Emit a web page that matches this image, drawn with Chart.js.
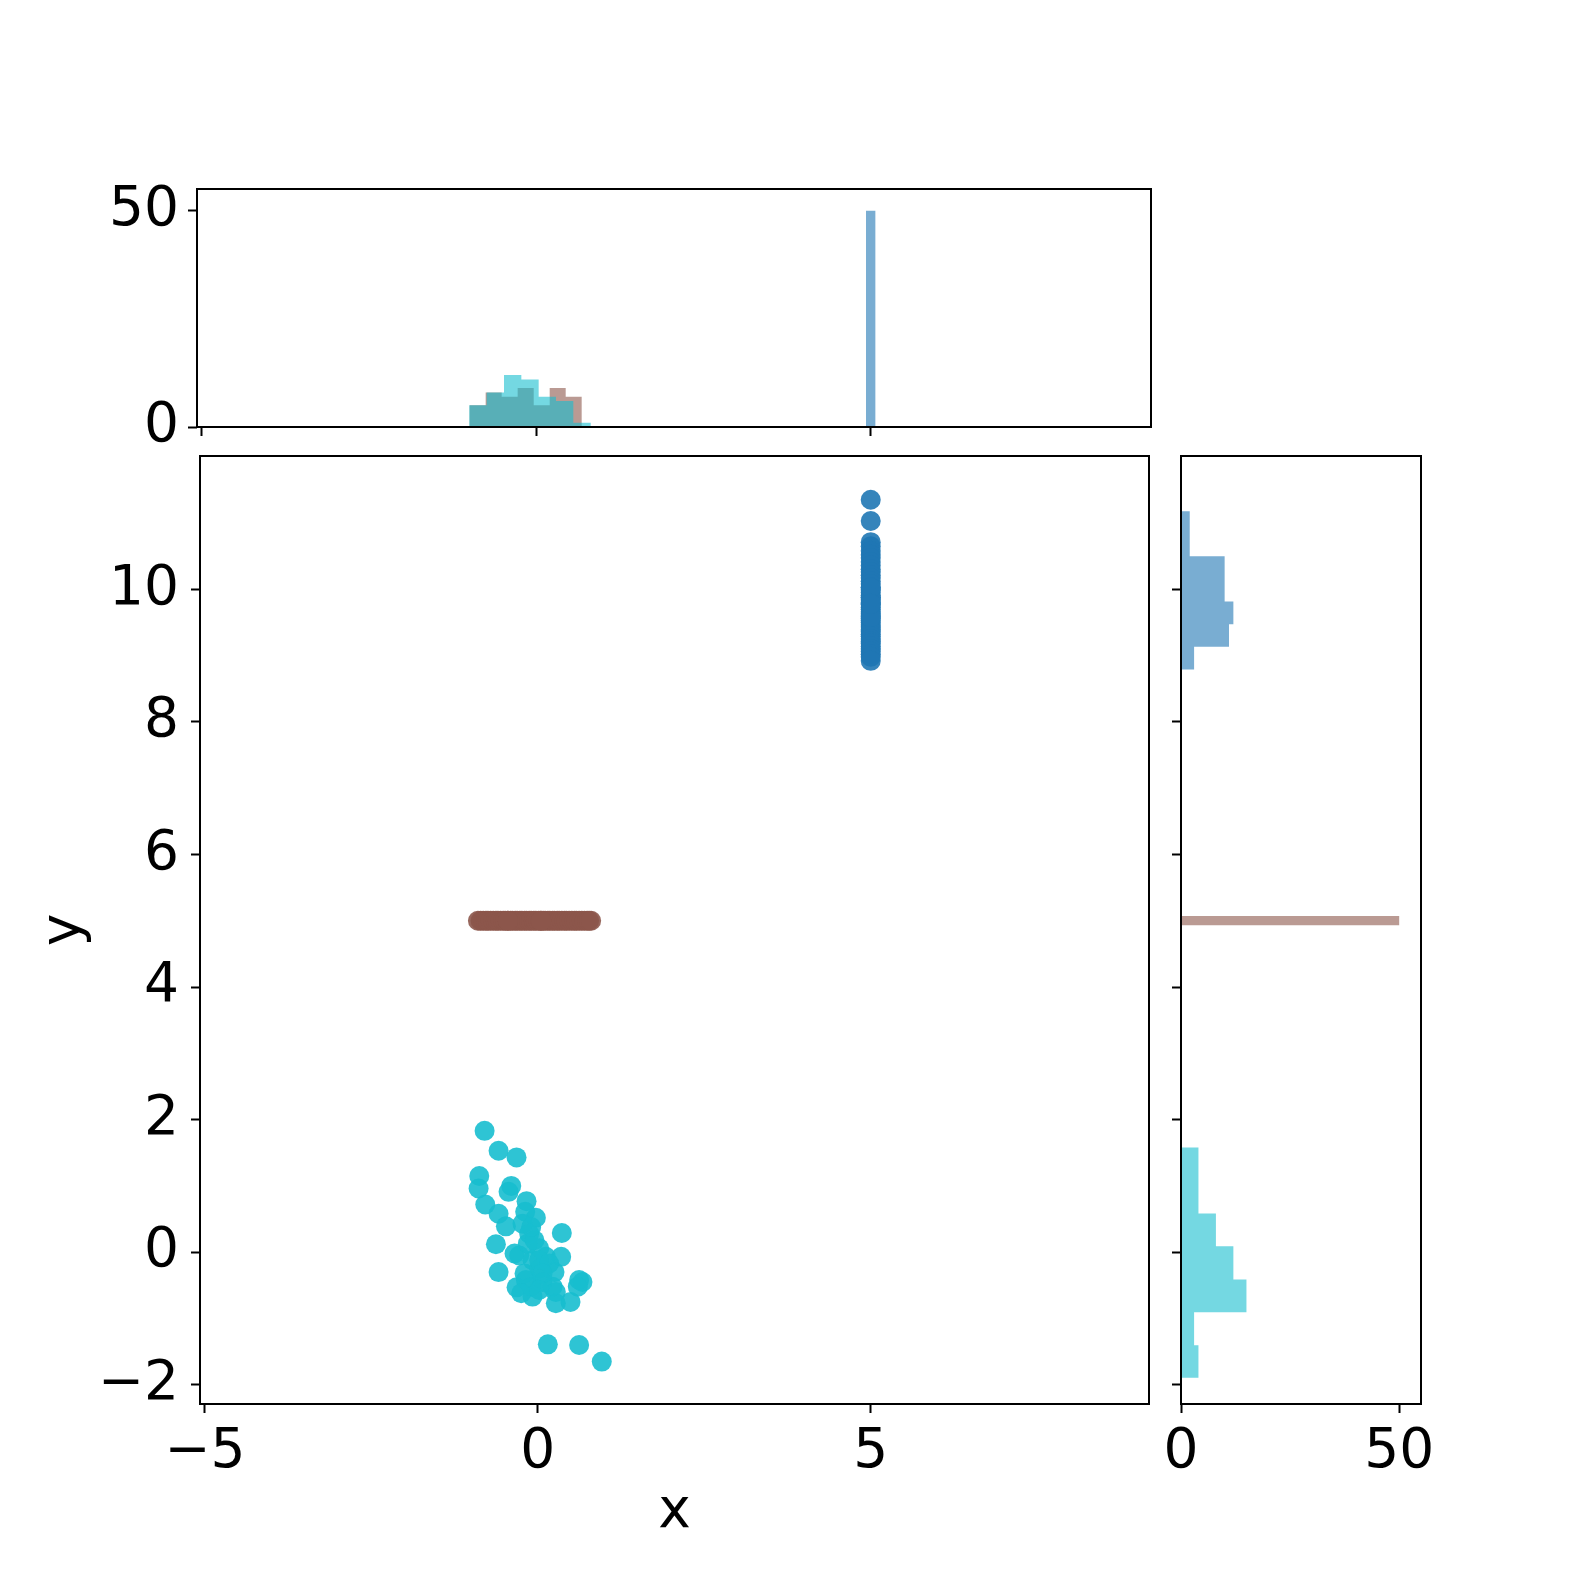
<!DOCTYPE html>
<html>
<head>
<meta charset="utf-8">
<script src="https://cdn.jsdelivr.net/npm/chart.js@4/dist/chart.umd.min.js"></script>
<style>
  html, body { margin: 0; padding: 0; background: #fff; }
  #wrap { position: relative; width: 1578px; height: 1578px; }
  canvas { position: absolute; left: 0; top: 0; }
</style>
</head>
<body>
<div id="wrap">
  <canvas id="main" width="1578" height="1578"></canvas>
  <canvas id="histx" width="1578" height="1578"></canvas>
  <canvas id="histy" width="1578" height="1578"></canvas>
</div>
<script>
// scatter groups
var blueX = 5;
var blueY = [11.35, 11.03, 10.71, 10.65, 10.58, 10.52, 10.47, 10.41, 10.36, 10.30,
  10.26, 10.21, 10.17, 10.12, 10.08, 10.03, 9.99, 9.95, 9.91, 9.87,
  9.84, 9.80, 9.77, 9.73, 9.70, 9.66, 9.63, 9.60, 9.56, 9.53,
  9.50, 9.46, 9.43, 9.39, 9.36, 9.32, 9.29, 9.25, 9.21, 9.18,
  9.14, 9.10, 9.06, 9.02, 8.98, 8.92, 9.88, 10.02, 9.58, 9.78];

var brownY = 5;
var brownX = [-0.90, -0.86, -0.82, -0.78, -0.75, -0.71, -0.67, -0.63, -0.60, -0.56,
  -0.52, -0.49, -0.45, -0.41, -0.38, -0.34, -0.31, -0.27, -0.24, -0.20,
  -0.17, -0.13, -0.10, -0.06, -0.03, 0.01, 0.04, 0.08, 0.11, 0.15,
  0.18, 0.22, 0.25, 0.29, 0.32, 0.36, 0.40, 0.43, 0.47, 0.51,
  0.55, 0.58, 0.62, 0.66, 0.70, 0.74, 0.77, 0.80, -0.45, 0.05];

var cyanX = [-0.80, -0.59, -0.32, -0.88, -0.89, -0.40, -0.44, -0.79, -0.17, -0.59,
  -0.19, -0.03, -0.48, -0.23, -0.13, 0.36, -0.63, -0.35, -0.28, 0.02,
  0.12, 0.35, -0.08, -0.59, -0.20, 0.02, 0.25, 0.62, 0.67, -0.32,
  -0.10, 0.07, 0.22, 0.60, -0.08, 0.27, 0.49, 0.15, 0.62, 0.96,
  0.02, 0.17, -0.18, 0.07, -0.15, -0.05, -0.25, 0.27, 0.02, -0.10];
var cyanY = [1.83, 1.53, 1.43, 1.15, 0.96, 1.00, 0.91, 0.72, 0.77, 0.58,
  0.61, 0.52, 0.39, 0.43, 0.28, 0.29, 0.12, -0.02, -0.05, 0.06,
  -0.07, -0.07, -0.12, -0.30, -0.32, -0.25, -0.30, -0.42, -0.45, -0.53,
  -0.52, -0.45, -0.52, -0.52, -0.67, -0.77, -0.75, -1.39, -1.40, -1.65,
  -0.12, -0.17, -0.42, -0.32, 0.13, 0.18, -0.62, -0.60, -0.57, 0.38];

// marginal histograms (7 bins each)
var cyanXEdges = [-1.000, -0.740, -0.481, -0.222, 0.037, 0.296, 0.555, 0.815];
var cyanXCounts = [5, 8, 12, 11, 7, 6, 1];
var brownXEdges = [-0.994, -0.755, -0.516, -0.277, -0.037, 0.202, 0.441, 0.680];
var brownXCounts = [5, 8, 7, 9, 5, 9, 7];
var blueXEdges = [4.93, 5.07];
var blueXCounts = [50];

var blueYEdges = [8.790, 9.132, 9.472, 9.815, 10.157, 10.497, 10.835, 11.176];
var blueYCounts = [3, 11, 12, 10, 10, 2, 2];
var brownYEdges = [4.93, 5.07];
var brownYCounts = [50];
var cyanYEdges = [-1.895, -1.402, -0.905, -0.412, 0.090, 0.583, 1.081, 1.578];
var cyanYCounts = [4, 3, 15, 12, 8, 4, 4];

var mainXTicks = [-5, 0, 5];
var mainYTicks = [-2, 0, 2, 4, 6, 8, 10];
var countTicks = [0, 50];

var BLUE = '31,119,180', BROWN = '140,86,75', CYAN = '23,190,207';

Chart.defaults.font.family = '"DejaVu Sans", sans-serif';
Chart.defaults.font.size = 55;
Chart.defaults.color = '#000';
Chart.defaults.animation = false;
Chart.defaults.events = [];
Chart.defaults.plugins.legend.display = false;
Chart.defaults.plugins.tooltip.enabled = false;

var spines = {
  id: 'spines',
  afterDraw: function(chart) {
    var c = chart.ctx, a = chart.chartArea;
    c.save();
    c.strokeStyle = '#000';
    c.lineWidth = 2;
    c.strokeRect(a.left, a.top, a.right - a.left, a.bottom - a.top);
    c.restore();
  }
};

function minus(v) { return String(v).replace('-', '\u2212'); }

function axis(min, max, ticks, size, labels, pad, extra) {
  var o = {
    type: 'linear', min: min, max: max,
    afterBuildTicks: function(s) { s.ticks = ticks.map(function(v) { return {value: v}; }); },
    afterFit: function(s) { if (s.isHorizontal()) s.height = size; else s.width = size; },
    grid: { display: true, drawOnChartArea: false, drawTicks: true, tickLength: 9, tickWidth: 2, tickColor: '#000', color: '#000' },
    border: { display: false },
    ticks: { padding: pad, callback: function(v) { return labels ? minus(v) : ''; } }
  };
  return Object.assign(o, extra || {});
}

function pts(xs, ys) {
  return xs.map(function(x, i) { return { x: x, y: ys[i] }; });
}
function fixedX(x, ys) { return ys.map(function(y) { return {x: x, y: y}; }); }
function fixedY(xs, y) { return xs.map(function(x) { return {x: x, y: y}; }); }

// histogram outline polygons built from edges/counts
function barsUp(edges, counts) {
  var p = [{x: edges[0], y: 0}];
  counts.forEach(function(c, i) { p.push({x: edges[i], y: c}, {x: edges[i + 1], y: c}); });
  p.push({x: edges[edges.length - 1], y: 0});
  return p;
}
function barsRight(edges, counts) {
  var p = [{x: 0, y: edges[0]}];
  counts.forEach(function(c, i) { p.push({x: c, y: edges[i]}, {x: c, y: edges[i + 1]}); });
  p.push({x: 0, y: edges[edges.length - 1]});
  return p;
}
function hist(data, rgb) {
  return { data: data, showLine: true, fill: 'shape', backgroundColor: 'rgba(' + rgb + ',0.6)',
    borderColor: 'transparent', borderWidth: 0, pointRadius: 0, tension: 0 };
}
function dots(data, rgb) {
  return { data: data, backgroundColor: 'rgba(' + rgb + ',0.9)', borderColor: 'rgba(' + rgb + ',0.9)',
    borderWidth: 0, pointRadius: 10 };
}

new Chart(document.getElementById('main'), {
  type: 'scatter',
  data: { datasets: [
    dots(pts(cyanX, cyanY), CYAN),
    dots(fixedY(brownX, brownY), BROWN),
    dots(fixedX(blueX, blueY), BLUE)
  ] },
  options: {
    responsive: false,
    layout: { padding: { left: 0, top: 456, right: 429, bottom: 0 } },
    scales: {
      x: axis(-5.075, 9.18, mainXTicks, 174, true, 7, { title: { display: true, text: 'x', padding: { top: 0, bottom: 32 } } }),
      y: axis(-2.29, 12.01, mainYTicks, 200, true, 12, { title: { display: true, text: 'y', padding: { top: 32, bottom: 0 } } })
    }
  },
  plugins: [spines]
});

new Chart(document.getElementById('histx'), {
  type: 'scatter',
  data: { datasets: [
    hist(barsUp(cyanXEdges, cyanXCounts), CYAN),
    hist(barsUp(brownXEdges, brownXCounts), BROWN),
    hist(barsUp(blueXEdges, blueXCounts), BLUE)
  ] },
  options: {
    responsive: false,
    layout: { padding: { left: 0, top: 189, right: 427, bottom: 1121 } },
    scales: {
      x: axis(-5.07, 9.19, mainXTicks, 30, false, 0),
      y: axis(0, 55, countTicks, 197, true, 9)
    }
  },
  plugins: [spines]
});

new Chart(document.getElementById('histy'), {
  type: 'scatter',
  data: { datasets: [
    hist(barsRight(cyanYEdges, cyanYCounts), CYAN),
    hist(barsRight(brownYEdges, brownYCounts), BROWN),
    hist(barsRight(blueYEdges, blueYCounts), BLUE)
  ] },
  options: {
    responsive: false,
    layout: { padding: { left: 1121, top: 456, right: 157, bottom: 0 } },
    scales: {
      x: axis(0, 55, countTicks, 174, true, 7),
      y: axis(-2.29, 12.01, mainYTicks, 60, false, 0)
    }
  },
  plugins: [spines]
});
</script>
</body>
</html>
